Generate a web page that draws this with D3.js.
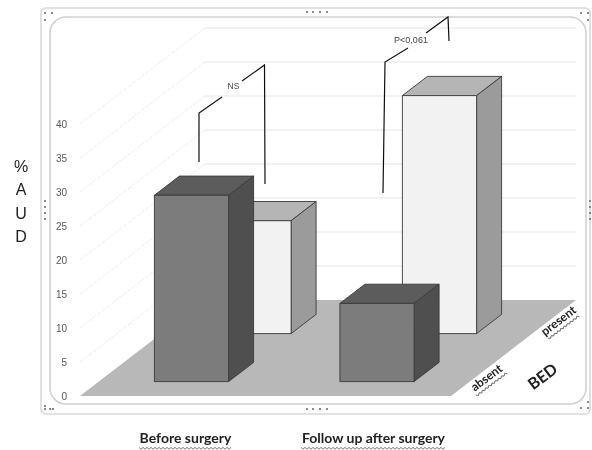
<!DOCTYPE html>
<html>
<head>
<meta charset="utf-8">
<script src="https://cdn.jsdelivr.net/npm/d3@7"></script>
<style>
  html, body { margin: 0; padding: 0; background: #fff; }
  text { font-family: "Liberation Sans", sans-serif; }
  .cat { font-family: Lato, sans-serif; font-weight: 700; fill: #222; }
</style>
</head>
<body>
<div id="chart"></div>
<script>
const categories = ["Before surgery", "Follow up after surgery"];
const bedLevels = ["absent", "present"];
const absentValues = [27.4, 11.5];
const presentValues = [16.6, 35];
const tickValues = [0, 5, 10, 15, 20, 25, 30, 35, 40];
const yLabelLetters = ["%", "A", "U", "D"];

const svgWidth = 592, svgHeight = 450;

// oblique projection of the excel 3d box
const floorLeft = 80, floorWidth = 371, depthX = 125, depthY = 96;

const svg = d3.select("#chart").append("svg")
    .attr("width", svgWidth)
    .attr("height", svgHeight)
    .style("display", "block");

svg.append("defs").append("filter")
    .attr("id", "soft")
    .append("feGaussianBlur")
    .attr("stdDeviation", 0.5);

const root = svg.append("g").attr("filter", "url(#soft)");

const y = d3.scaleLinear().domain([0, 40]).range([396, 124]);
const xBand = d3.scaleBand().domain(categories).range([0, 1]).paddingInner(0.6).paddingOuter(0.3);
const depthBand = d3.scaleBand().domain(bedLevels).range([0, 1]).paddingInner(0.6).paddingOuter(0.3);

// u = across the floor, d = into the chart, v = value
function project(u, d, v) {
    return [floorLeft + floorWidth * u + depthX * d, y(v) - depthY * d];
}

function add_frame() {
    root.append("rect")
        .attr("x", 41).attr("y", 8).attr("width", 549).attr("height", 406).attr("rx", 5)
        .attr("fill", "#fff").attr("stroke", "#d9d9d9").attr("stroke-width", 1.6);
    root.append("rect")
        .attr("x", 50).attr("y", 17).attr("width", 536).attr("height", 387).attr("rx", 16)
        .attr("fill", "#fff").attr("stroke", "#d2d2d2").attr("stroke-width", 1.6);

    // selection handles from the office object
    const dots = [];
    [[45, 13], [52, 13], [45, 20], [45, 406], [45, 409], [50, 409], [53, 409],
     [581, 13], [588, 13], [588, 20], [588, 402], [581, 408], [588, 408]].forEach(d => dots.push(d));
    [307, 313, 320, 327].forEach(x => { dots.push([x, 12]); dots.push([x, 409]); });
    [201, 207, 213, 219].forEach(yy => { dots.push([45, yy]); dots.push([590, yy]); });
    root.append("g").selectAll("rect")
        .data(dots)
        .enter()
        .append("rect")
            .attr("x", d => d[0] - 1)
            .attr("y", d => d[1] - 1)
            .attr("width", 2)
            .attr("height", 2)
            .attr("fill", "#8a8a8a");
}

function add_walls() {
    const lines = root.append("g").attr("fill", "none").attr("stroke", "#e6e6e6");
    tickValues.filter(v => v > 0).forEach(v => {
        const a = project(0, 0, v), b = project(0, 1, v), c = project(1, 1, v);
        lines.append("line")
            .attr("x1", a[0]).attr("y1", a[1]).attr("x2", b[0]).attr("y2", b[1])
            .attr("stroke", "#ececec")
            .attr("stroke-dasharray", "4 1.5");
        lines.append("line")
            .attr("x1", b[0]).attr("y1", b[1]).attr("x2", c[0]).attr("y2", c[1])
            .attr("stroke-width", 1.2);
    });
    const floor = [project(0, 0, 0), project(1, 0, 0), project(1, 1, 0), project(0, 1, 0)];
    root.append("polygon")
        .attr("points", floor.join(" "))
        .attr("fill", "#b8b8b8");
}

function add_axis() {
    const axis = d3.axisLeft(y).tickValues(tickValues).tickSize(0).tickPadding(4);
    const g = root.append("g").attr("transform", "translate(71,0)").call(axis);
    g.select(".domain").remove();
    g.selectAll("text")
        .attr("fill", "#555")
        .style("font-size", "10px")
        .style("font-family", "'Liberation Sans', sans-serif");
}

function add_bars(values, level, colors) {
    const d0 = depthBand(level), d1 = d0 + depthBand.bandwidth();
    const w = xBand.bandwidth();
    values.forEach((v, i) => {
        const u = xBand(categories[i]);
        const g = root.append("g")
            .attr("stroke", "#3a3a3a")
            .attr("stroke-width", 0.9)
            .attr("stroke-linejoin", "round");
        g.append("polygon")
            .attr("points", [project(u, d0, v), project(u + w, d0, v), project(u + w, d1, v), project(u, d1, v)].join(" "))
            .attr("fill", colors.top);
        g.append("polygon")
            .attr("points", [project(u + w, d0, 0), project(u + w, d1, 0), project(u + w, d1, v), project(u + w, d0, v)].join(" "))
            .attr("fill", colors.side);
        g.append("polygon")
            .attr("points", [project(u, d0, 0), project(u + w, d0, 0), project(u + w, d0, v), project(u, d0, v)].join(" "))
            .attr("fill", colors.front);
    });
}

function add_brackets() {
    const segs = [
        [[199, 162], [199, 113], [222, 97]],
        [[242, 81], [264.5, 65], [265, 184]],
        [[383, 193], [385, 62], [408, 48]],
        [[426, 33], [448, 17], [449, 41]]
    ];
    const line = d3.line();
    root.append("g").selectAll("path")
        .data(segs)
        .enter()
        .append("path")
            .attr("d", d => line(d))
            .attr("fill", "none")
            .attr("stroke", "#111")
            .attr("stroke-width", 1.2);
    root.append("text").attr("x", 233.5).attr("y", 89).attr("text-anchor", "middle")
        .style("font-size", "8.5px").attr("fill", "#444").text("NS");
    root.append("text").attr("x", 411).attr("y", 43).attr("text-anchor", "middle")
        .style("font-size", "9px").attr("fill", "#444").text("P<0,061");
}

// spell check squiggle under a word
function wavy(x0, x1, yy) {
    const pts = d3.range(x0, x1, 2).map((x, i) => [x, yy + (i % 2 ? 1.2 : -0.6)]);
    return d3.line()(pts);
}

function add_labels() {
    root.append("g").selectAll("text")
        .data(yLabelLetters)
        .enter()
        .append("text")
            .attr("x", 21)
            .attr("y", (d, i) => 172 + i * 23.3)
            .attr("text-anchor", "middle")
            .attr("fill", "#222")
            .style("font-size", "16px")
            .text(d => d);

    root.append("text").attr("class", "cat").attr("x", 185.5).attr("y", 443)
        .attr("text-anchor", "middle").style("font-size", "14px").text("Before surgery");
    root.append("text").attr("class", "cat").attr("x", 373.5).attr("y", 443)
        .attr("text-anchor", "middle").style("font-size", "14px").text("Follow up after surgery");

    [[139, 232], [301, 446]].forEach(r => {
        root.append("path").attr("d", wavy(r[0], r[1], 448))
            .attr("fill", "none").attr("stroke", "#555").attr("stroke-width", 0.8);
    });

    [["absent", 489, 381, "12px"], ["present", 561, 324, "12px"], ["BED", 546, 381, "16px"]].forEach(t => {
        const g = root.append("g").attr("transform", `translate(${t[1]},${t[2]}) rotate(-37)`);
        g.append("text").attr("class", "cat").attr("text-anchor", "middle")
            .style("font-size", t[3]).text(t[0]);
        if (t[0] !== "BED") {
            g.append("path").attr("d", wavy(-19, 20, 4))
                .attr("fill", "none").attr("stroke", "#555").attr("stroke-width", 0.8);
        }
    });
}

add_frame();
add_walls();
add_axis();
add_bars(presentValues, "present", { front: "#f2f2f2", top: "#b5b5b5", side: "#9b9b9b" });
add_bars(absentValues, "absent", { front: "#7b7b7b", top: "#5c5c5c", side: "#505050" });
add_brackets();
add_labels();
</script>
</body>
</html>
